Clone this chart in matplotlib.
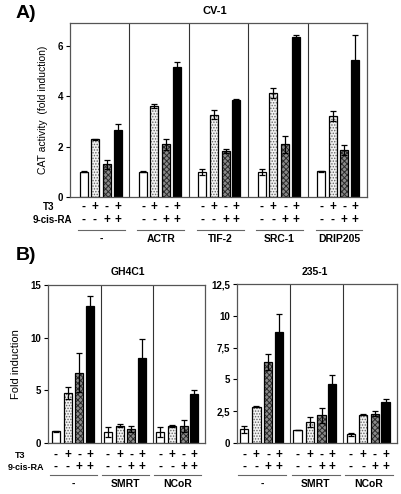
import matplotlib
matplotlib.use('Agg')
import matplotlib.pyplot as plt
import matplotlib.transforms as mtransforms
import numpy as np

plt.rcParams['font.family'] = ['Liberation Sans', 'DejaVu Sans']
plt.rcParams['font.weight'] = 'bold'
plt.rcParams['hatch.linewidth'] = 0.7

W, H = 401, 494

# data -------------------------------------------------------------
t3_signs = ['-', '+', '-', '+']
ra_signs = ['-', '-', '+', '+']

a_groups = ['-', 'ACTR', 'TIF-2', 'SRC-1', 'DRIP205']
a_vals = [[1.0, 2.29, 1.30, 2.66],
          [1.0, 3.60, 2.09, 5.14],
          [1.0, 3.26, 1.81, 3.84],
          [1.0, 4.13, 2.09, 6.34],
          [1.02, 3.22, 1.87, 5.43]]
a_errs = [[0.02, 0.02, 0.18, 0.25],
          [0.02, 0.08, 0.22, 0.20],
          [0.13, 0.18, 0.08, 0.05],
          [0.13, 0.20, 0.33, 0.10],
          [0.02, 0.20, 0.20, 1.00]]

b_groups = ['-', 'SMRT', 'NCoR']
gh_vals = [[1.12, 4.73, 6.67, 12.98],
           [1.05, 1.65, 1.33, 8.10],
           [1.05, 1.60, 1.59, 4.62]]
gh_errs = [[0.05, 0.60, 1.85, 1.00],
           [0.50, 0.15, 0.25, 1.80],
           [0.50, 0.10, 0.55, 0.40]]
c235_vals = [[1.06, 2.85, 6.36, 8.75],
             [1.00, 1.60, 2.15, 4.60],
             [0.66, 2.22, 2.30, 3.20]]
c235_errs = [[0.27, 0.03, 0.62, 1.40],
             [0.03, 0.40, 0.60, 0.75],
             [0.12, 0.03, 0.22, 0.25]]


def px_axes(left, top, right, bottom):
    return [left / W, 1 - bottom / H, (right - left) / W, (bottom - top) / H]


def fy(y):
    return 1 - y / H


def draw_bars(ax, vals, errs, offs, width):
    n = len(vals)
    for g in range(n):
        for j in range(4):
            x = g + offs[j]
            v = vals[g][j]
            e = errs[g][j]
            if j == 0:
                ax.bar(x, v, width, color='white', edgecolor='black', linewidth=0.9, zorder=2)
            elif j == 1:
                ax.bar(x, v, width, color='#f2f2f2', edgecolor='#666666', hatch='......', linewidth=0, zorder=2)
                ax.bar(x, v, width, fill=False, edgecolor='black', linewidth=0.9, zorder=3)
            elif j == 2:
                ax.bar(x, v, width, color='#8a8a8a', edgecolor='#2a2a2a', hatch='xxxxxx', linewidth=0, zorder=2)
                ax.bar(x, v, width, fill=False, edgecolor='black', linewidth=0.9, zorder=3)
            else:
                ax.bar(x, v, width, color='black', edgecolor='black', linewidth=0.9, zorder=2)
            ax.errorbar(x, v, yerr=e, fmt='none', ecolor='black', elinewidth=0.9,
                        capsize=2, capthick=0.9, zorder=4)
    for g in range(1, n):
        ax.axvline(g, color='#333333', lw=0.8, zorder=1)
    ax.set_xlim(0, n)
    ax.set_xticks([])
    for s in ax.spines.values():
        s.set_color('#555555')
        s.set_linewidth(0.9)
    ax.tick_params(axis='y', direction='out', length=3, width=0.8, labelsize=7, pad=2)


def draw_labels(fig, ax, groups, offs, width, y_t3, y_ra, y_line, y_grp, fs=8.5, gfs=7.5):
    tr = mtransforms.blended_transform_factory(ax.transData, fig.transFigure)
    for g, name in enumerate(groups):
        for j in range(4):
            x = g + offs[j]
            fig.text(x, fy(y_t3), t3_signs[j], transform=tr, ha='center', va='center', fontsize=fs)
            fig.text(x, fy(y_ra), ra_signs[j], transform=tr, ha='center', va='center', fontsize=fs)
        x0 = g + offs[0] - width * 0.7
        x1 = g + offs[3] + width * 0.9
        ax.plot([x0, x1], [fy(y_line)] * 2, transform=tr, color='#666666', lw=0.8, clip_on=False)
        fig.text((x0 + x1) / 2, fy(y_grp), name, transform=tr, ha='center', va='center', fontsize=gfs)


fig = plt.figure(figsize=(W / 100, H / 100), dpi=100)

# panel A
a_offs = [0.23, 0.42, 0.62, 0.80]
a_w = 0.135
axA = fig.add_axes(px_axes(70, 23, 367, 197))
draw_bars(axA, a_vals, a_errs, a_offs, a_w)
axA.set_ylim(0, 6.9)
axA.set_yticks([0, 2, 4, 6])
axA.set_ylabel('CAT activity  (fold induction)', fontsize=7.5, labelpad=7)
draw_labels(fig, axA, a_groups, a_offs, a_w, 207, 220, 230, 239)
fig.text(215 / W, fy(11), 'CV-1', ha='center', va='center', fontsize=8)
fig.text(16 / W, fy(14), 'A)', ha='left', va='center', fontsize=14)
fig.text(54 / W, fy(207), 'T3', ha='right', va='center', fontsize=7)
fig.text(72 / W, fy(220), '9-cis-RA', ha='right', va='center', fontsize=7)

# panel B
b_offs = [0.14, 0.37, 0.59, 0.79]
b_w = 0.155
axB1 = fig.add_axes(px_axes(48.3, 285, 205, 443))
draw_bars(axB1, gh_vals, gh_errs, b_offs, b_w)
axB1.set_ylim(0, 15)
axB1.set_yticks([0, 5, 10, 15])
axB1.set_ylabel('Fold induction', fontsize=8, labelpad=7)
draw_labels(fig, axB1, b_groups, b_offs, b_w, 455, 467, 475, 484)
fig.text(128 / W, fy(272), 'GH4C1', ha='center', va='center', fontsize=7.5)
fig.text(25 / W, fy(455), 'T3', ha='right', va='center', fontsize=6.5)
fig.text(44 / W, fy(467), '9-cis-RA', ha='right', va='center', fontsize=6.5)
fig.text(16 / W, fy(256), 'B)', ha='left', va='center', fontsize=14)

axB2 = fig.add_axes(px_axes(236.7, 284.3, 396.7, 442.7))
draw_bars(axB2, c235_vals, c235_errs, b_offs, b_w)
axB2.set_ylim(0, 12.5)
axB2.set_yticks([0, 2.5, 5, 7.5, 10, 12.5])
axB2.set_yticklabels(['0', '2,5', '5', '7,5', '10', '12,5'])
draw_labels(fig, axB2, b_groups, b_offs, b_w, 455, 467, 475, 484)
fig.text(315 / W, fy(272), '235-1', ha='center', va='center', fontsize=7.5)

fig.savefig('out.png', dpi=100)
